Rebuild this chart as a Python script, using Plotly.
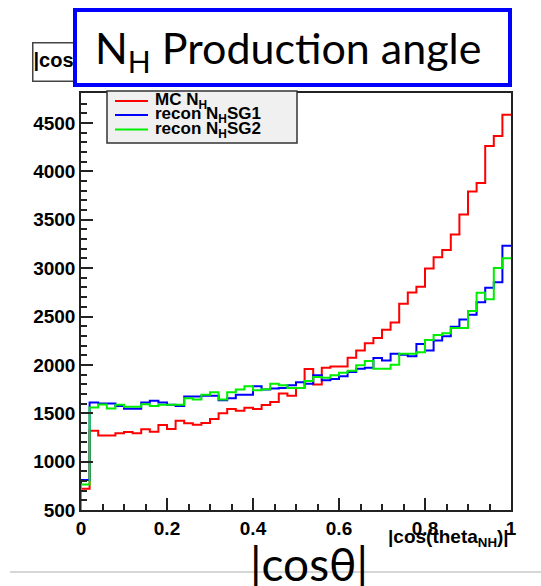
import numpy as np
import plotly.graph_objects as go

# ---- data (50 bins of |cos(theta_NH)| from 0 to 1) ----
n_bins = 50
x_min, x_max = 0.0, 1.0
y_min, y_max = 500, 4810

mc_nh = [720, 1320, 1270, 1270, 1293, 1307, 1293, 1334, 1310, 1379,
         1338, 1423, 1396, 1382, 1400, 1440, 1499, 1543, 1526, 1557,
         1543, 1584, 1615, 1704, 1680, 1762, 1957, 1796, 1971, 1984,
         1984, 2073, 2148, 2224, 2278, 2364, 2439, 2632, 2747, 2808,
         2995, 3112, 3188, 3348, 3553, 3792, 3881, 4263, 4366, 4584]

recon_sg1 = [810, 1611, 1601, 1601, 1574, 1547, 1547, 1611, 1629, 1611,
             1588, 1574, 1673, 1673, 1680, 1680, 1635, 1656, 1690, 1690,
             1779, 1745, 1755, 1762, 1790, 1820, 1806, 1892, 1841, 1854,
             1882, 1926, 1960, 1971, 2070, 2046, 2114, 2104, 2090, 2217,
             2148, 2251, 2296, 2395, 2470, 2518, 2648, 2797, 2855, 3232]

recon_sg2 = [763, 1560, 1591, 1550, 1588, 1567, 1567, 1594, 1574, 1588,
             1588, 1588, 1656, 1642, 1690, 1717, 1642, 1717, 1745, 1779,
             1738, 1748, 1806, 1790, 1762, 1762, 1834, 1875, 1868, 1892,
             1919, 1940, 1995, 2039, 1960, 1960, 2001, 2114, 2114, 2131,
             2258, 2309, 2326, 2381, 2381, 2557, 2746, 2677, 3002, 3102]

series_names = ["MC N<sub>H</sub>", "recon N<sub>H</sub>SG1", "recon N<sub>H</sub>SG2"]
series_colors = ["#ff0000", "#0000ff", "#00ee00"]

x_tickvals = [0, 0.2, 0.4, 0.6, 0.8, 1.0]
x_ticktext = ["0", "0.2", "0.4", "0.6", "0.8", "1"]
y_tickvals = [500, 1000, 1500, 2000, 2500, 3000, 3500, 4000, 4500]

# ---- layout geometry (pixels) ----
W, H = 541, 586
L, R, T, B = 81, 30, 93, 76
pw, ph = W - L - R, H - T - B


def px(xp):
    return (xp - L) / pw


def py(yp):
    return (H - B - yp) / ph


edges = np.linspace(x_min, x_max, n_bins + 1)


def step_xy(vals):
    xs = [edges[0]] + list(edges)
    ys = [y_min] + list(vals) + [vals[-1]]
    return xs, ys


fig = go.Figure()
for vals, name, col in zip([mc_nh, recon_sg1, recon_sg2], series_names, series_colors):
    xs, ys = step_xy(vals)
    fig.add_trace(go.Scatter(x=xs, y=ys, mode="lines", name=name,
                             line=dict(color=col, width=2, shape="hv"),
                             showlegend=False, hoverinfo="skip"))

tick_font = dict(family="Liberation Sans", size=19, color="black", weight="bold")

fig.update_layout(
    width=W, height=H, autosize=False,
    margin=dict(l=L, r=R, t=T, b=B),
    paper_bgcolor="white", plot_bgcolor="white",
    xaxis=dict(range=[x_min, x_max], tickvals=x_tickvals, ticktext=x_ticktext,
               ticks="inside", ticklen=12, tickwidth=1.5, tickcolor="#222",
               minor=dict(dtick=0.05, ticks="inside", ticklen=6, tickwidth=1.5, tickcolor="#222"),
               showline=True, mirror=True, linecolor="#222", linewidth=1.5,
               showgrid=False, zeroline=False, tickfont=tick_font),
    yaxis=dict(range=[y_min, y_max], tickvals=y_tickvals,
               ticks="inside", ticklen=12, tickwidth=1.5, tickcolor="#222",
               minor=dict(dtick=100, ticks="inside", ticklen=6, tickwidth=1.5, tickcolor="#222"),
               showline=True, mirror=True, linecolor="#222", linewidth=1.5,
               showgrid=False, zeroline=False, tickfont=tick_font),
)

shapes = []
annotations = []

# legend box (ROOT style)
shapes.append(dict(type="rect", xref="paper", yref="paper",
                   x0=px(107), x1=px(297), y0=py(143), y1=py(91),
                   fillcolor="#f0f0f0", line=dict(color="#333", width=1.5), layer="above"))
row_y = [101, 115, 129.5]
for ry, name, col in zip(row_y, series_names, series_colors):
    shapes.append(dict(type="line", xref="paper", yref="paper",
                       x0=px(115), x1=px(148), y0=py(ry), y1=py(ry),
                       line=dict(color=col, width=2), layer="above"))
    annotations.append(dict(xref="paper", yref="paper", x=px(153), y=py(ry),
                            xanchor="left", yanchor="middle", showarrow=False,
                            text=name,
                            font=dict(family="Liberation Sans", size=17, color="black", weight="bold")))

# x-axis title
annotations.append(dict(xref="paper", yref="paper", x=px(511), y=py(538),
                        xanchor="right", yanchor="middle", showarrow=False,
                        text="|cos(theta<sub>NH</sub>)|",
                        font=dict(family="Liberation Sans", size=19, color="black", weight="bold")))

# ROOT title box (partly hidden)
annotations.append(dict(xref="paper", yref="paper", x=px(32), y=py(62),
                        xanchor="left", yanchor="middle", showarrow=False,
                        text="|cos(theta<sub>NH</sub>)|", align="left",
                        width=160, height=37, borderpad=0,
                        bordercolor="#444", borderwidth=1.5, bgcolor="white",
                        font=dict(family="Liberation Sans", size=20, color="black", weight="bold")))

# slide title box
annotations.append(dict(xref="paper", yref="paper", x=px(292.5), y=py(47.5),
                        xanchor="center", yanchor="middle", showarrow=False,
                        text=" ", width=431, height=71, borderpad=0,
                        bordercolor="#0000ff", borderwidth=4, bgcolor="white"))
annotations.append(dict(xref="paper", yref="paper", x=px(93), y=py(51),
                        xanchor="left", yanchor="middle", showarrow=False,
                        text="N<sub>H</sub> Production angle",
                        font=dict(family="Lato", size=43, color="black")))

# bottom slide text and rule
shapes.append(dict(type="line", xref="paper", yref="paper",
                   x0=px(10), x1=px(541), y0=py(572), y1=py(572),
                   line=dict(color="#c8c8c8", width=1.5), layer="above"))
annotations.append(dict(xref="paper", yref="paper", x=px(308.5), y=py(563),
                        xanchor="center", yanchor="middle", showarrow=False,
                        text="|cosθ|",
                        font=dict(family="Lato", size=46, color="black")))

fig.update_layout(shapes=shapes, annotations=annotations)
fig.write_html("out.html", config={"displayModeBar": False},
               post_script="document.body.style.margin='0';document.body.style.overflow='hidden';")
